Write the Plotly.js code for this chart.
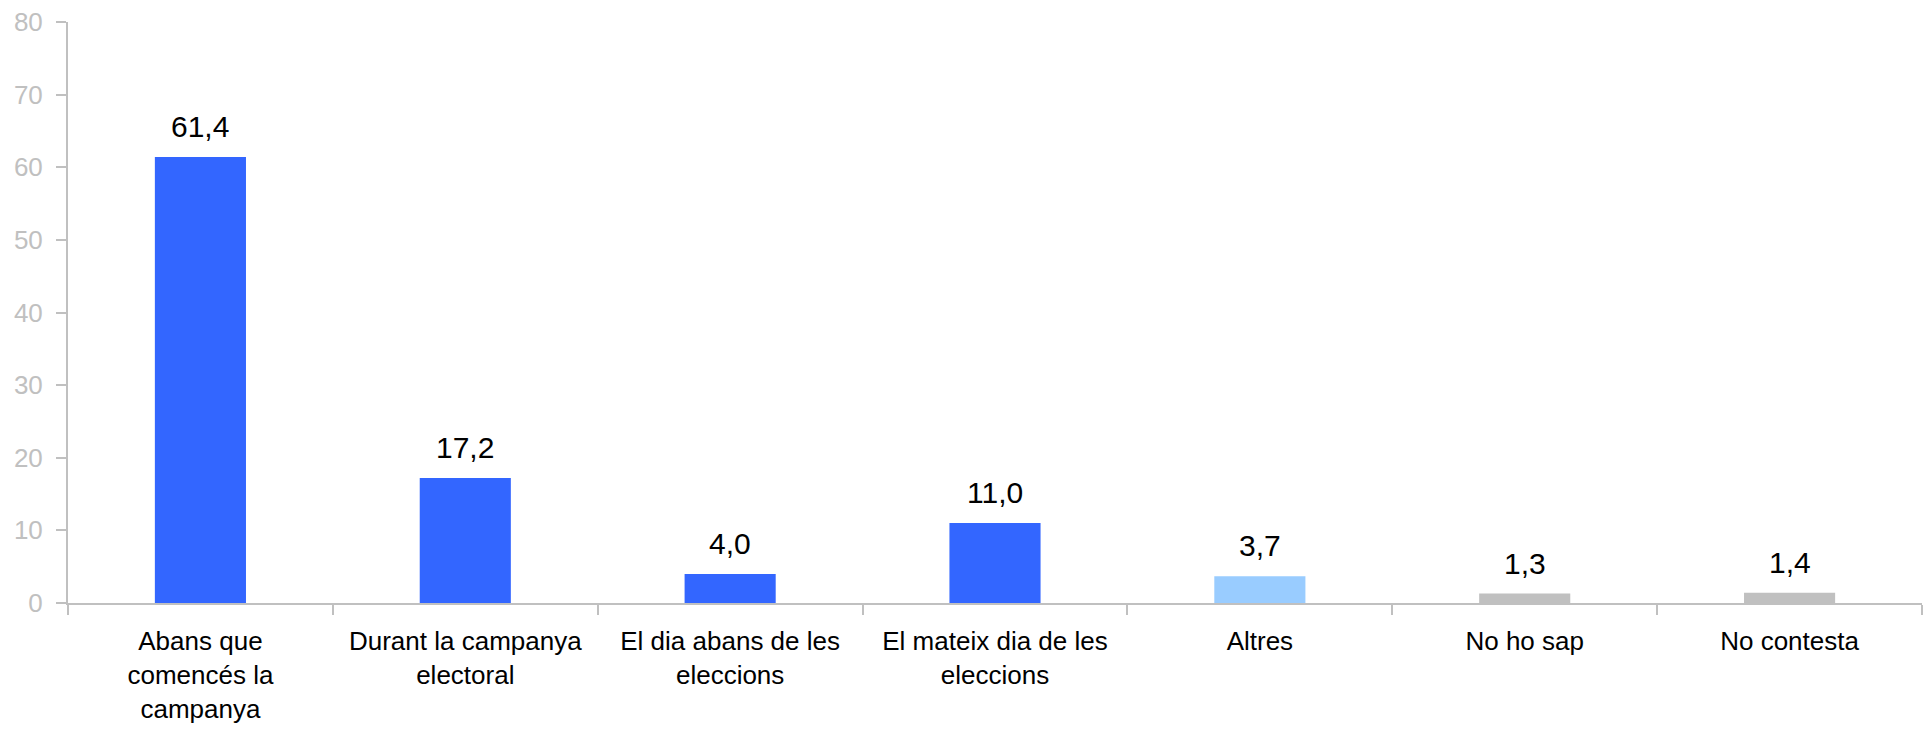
<!DOCTYPE html>
<html>
<head>
<meta charset="utf-8">
<script src="https://cdn.plot.ly/plotly-3.0.1.min.js"></script>
<style>html,body{margin:0;padding:0;background:#fff;}#chart{width:1926px;height:730px;}</style>
</head>
<body>
<div id="chart"></div>
<script>
const categories = [
  "Abans que<br>comencés la<br>campanya",
  "Durant la campanya<br>electoral",
  "El dia abans de les<br>eleccions",
  "El mateix dia de les<br>eleccions",
  "Altres",
  "No ho sap",
  "No contesta"
];
const values = [61.4, 17.2, 4.0, 11.0, 3.7, 1.3, 1.4];
const barColors = ["#3366FF", "#3366FF", "#3366FF", "#3366FF", "#99CCFF", "#C0C0C0", "#C0C0C0"];
const yTicks = [0, 10, 20, 30, 40, 50, 60, 70, 80];

const FONT = "Liberation Sans, Arial, sans-serif";

const trace = {
  type: "bar",
  x: categories,
  y: values,
  marker: {color: barColors, line: {width: 0}},
  hoverinfo: "none"
};

const annotations = categories.map((c, i) => ({
  x: c,
  y: values[i],
  xref: "x",
  yref: "y",
  text: values[i].toFixed(1).replace(".", ","),
  showarrow: false,
  yanchor: "bottom",
  yshift: 12,
  font: {family: FONT, size: 30, color: "#000000"}
}));

const layout = {
  width: 1926,
  height: 730,
  margin: {l: 68, r: 4, t: 22, b: 127},
  paper_bgcolor: "#ffffff",
  plot_bgcolor: "#ffffff",
  showlegend: false,
  bargap: 0.656,
  separators: ",.",
  font: {family: FONT},
  xaxis: {
    type: "category",
    showline: true,
    linecolor: "#C0C0C0",
    linewidth: 2,
    ticks: "outside",
    tickson: "boundaries",
    ticklen: 10,
    tickwidth: 2,
    tickcolor: "#C0C0C0",
    showgrid: false,
    zeroline: false,
    tickangle: 0,
    ticklabelstandoff: 14,
    tickfont: {family: FONT, size: 26, color: "#000000"}
  },
  yaxis: {
    range: [0, 80],
    tickvals: yTicks,
    ticktext: yTicks.map(String),
    showline: true,
    linecolor: "#C0C0C0",
    linewidth: 2,
    ticks: "outside",
    ticklen: 10,
    tickwidth: 2,
    tickcolor: "#C0C0C0",
    showgrid: false,
    zeroline: false,
    ticklabelstandoff: 8,
    tickfont: {family: FONT, size: 26, color: "#C0C0C0"}
  },
  annotations: annotations
};

Plotly.newPlot("chart", [trace], layout, {displayModeBar: false, staticPlot: true});
</script>
</body>
</html>
